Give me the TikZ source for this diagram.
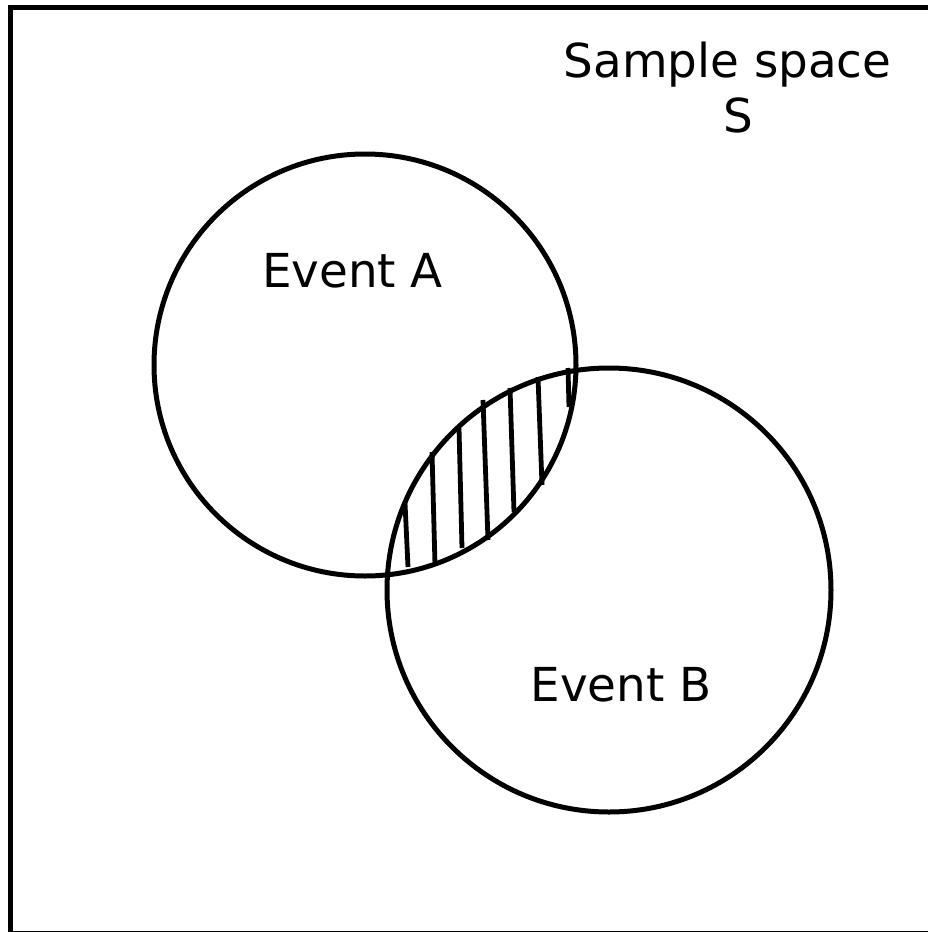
\documentclass[tikz,border=0pt]{standalone}
\usepackage{fontspec}
\setmainfont{DejaVu Sans}
\begin{document}
\begin{tikzpicture}[x=1pt,y=-1pt,
  outline/.style={line width=5pt},
  setcircle/.style={circle,draw,line width=5pt,inner sep=0pt},
  lbl/.style={anchor=base,inner sep=0pt,font=\fontsize{46.8}{56}\selectfont},
  hatchline/.style={line width=4.8pt}]
\useasboundingbox (0,0) rectangle (927,932);
\fill[white] (0,0) rectangle (927,932);
\draw[outline] (10.5,7.5) rectangle (934,933);
\node[setcircle,minimum size=422pt] (A) at (365,365) {};
\node[setcircle,minimum size=444pt] (B) at (609,590) {};
\draw[hatchline] (405,503) -- (408,567);
\draw[hatchline] (432,452) -- (435,565);
\draw[hatchline] (459,428) -- (462,548);
\draw[hatchline] (483,400) -- (488,540);
\draw[hatchline] (510,388) -- (514,512);
\draw[hatchline] (538,377) -- (542,485);
\draw[hatchline] (568,368) -- (569,407);
\node[lbl] (s1) at (727.5,77) {Sample space};
\node[lbl] (s2) at (738.5,132) {S};
\node[lbl] (ea) at (352.5,287) {Event A};
\node[lbl] (eb) at (621,701) {Event B};
\end{tikzpicture}
\end{document}
